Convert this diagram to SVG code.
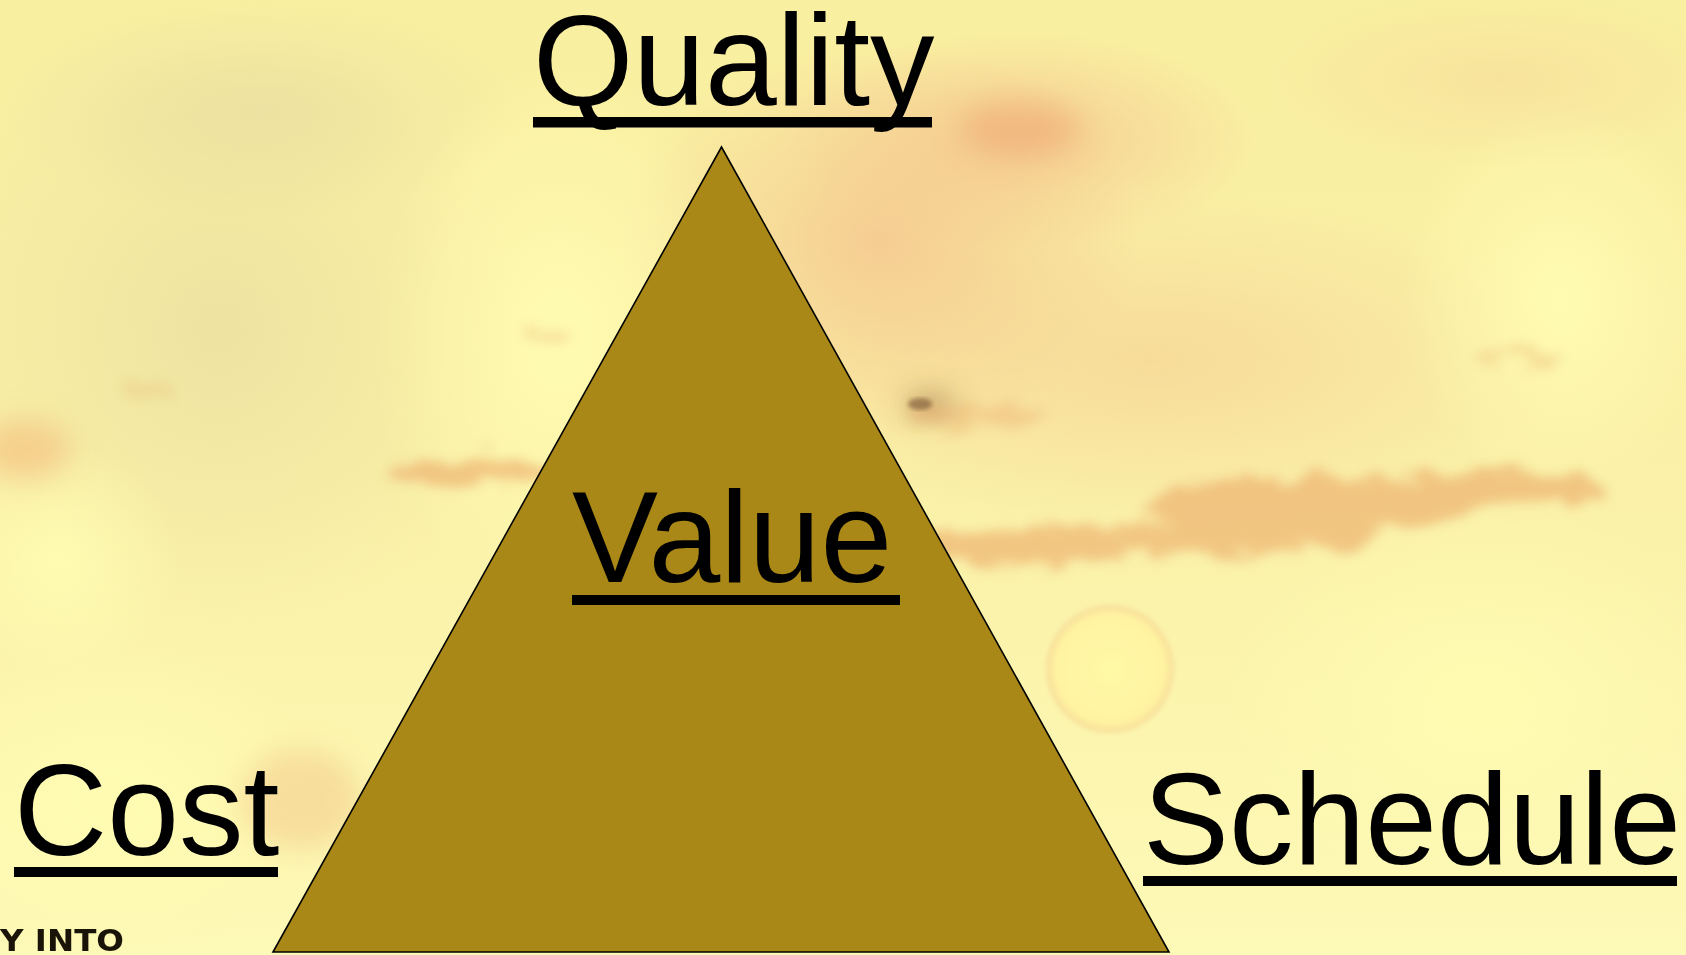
<svg xmlns="http://www.w3.org/2000/svg" width="1686" height="955" viewBox="0 0 1686 955">
  <defs>
    <linearGradient id="sky" x1="0" y1="0" x2="0" y2="1">
      <stop offset="0" stop-color="#F9EFA0"/>
      <stop offset="0.45" stop-color="#FAF0A6"/>
      <stop offset="1" stop-color="#FDF9B6"/>
    </linearGradient>
    <radialGradient id="warm" cx="0.5" cy="0.5" r="0.5">
      <stop offset="0" stop-color="#F4C48E" stop-opacity="0.8"/>
      <stop offset="1" stop-color="#F4C48E" stop-opacity="0"/>
    </radialGradient>
    <radialGradient id="glow" cx="0.5" cy="0.5" r="0.5">
      <stop offset="0" stop-color="#FFFCB2" stop-opacity="0.95"/>
      <stop offset="1" stop-color="#FFFCB2" stop-opacity="0"/>
    </radialGradient>
    <radialGradient id="grey" cx="0.5" cy="0.5" r="0.5">
      <stop offset="0" stop-color="#E6DBA0" stop-opacity="0.6"/>
      <stop offset="1" stop-color="#E6DBA0" stop-opacity="0"/>
    </radialGradient>
    <radialGradient id="sun" cx="0.5" cy="0.5" r="0.5">
      <stop offset="0" stop-color="#FFFAA6"/>
      <stop offset="0.85" stop-color="#FFF3A0"/>
      <stop offset="1" stop-color="#F6DA98"/>
    </radialGradient>
    <filter id="soft" x="-30%" y="-30%" width="160%" height="160%">
      <feGaussianBlur stdDeviation="14"/>
    </filter>
    <!-- ragged, blurred cloud edges -->
    <filter id="ragged" x="-20%" y="-100%" width="140%" height="300%">
      <feTurbulence type="fractalNoise" baseFrequency="0.03 0.08" numOctaves="3" seed="7" result="noise"/>
      <feDisplacementMap in="SourceGraphic" in2="noise" scale="40" xChannelSelector="R" yChannelSelector="G" result="moved"/>
      <feGaussianBlur in="moved" stdDeviation="6"/>
    </filter>
    <filter id="edge" x="-10%" y="-10%" width="120%" height="120%">
      <feGaussianBlur stdDeviation="2"/>
    </filter>
    <style>
      .label { font-family: "Liberation Sans", Arial, sans-serif; font-size: 129px; fill: #000000; }
      .rule { fill: #000000; }
      .streak { fill: #EBA868; }
    </style>
  </defs>

  <!-- sky backdrop -->
  <g id="backdrop">
    <rect x="0" y="0" width="1686" height="955" fill="url(#sky)"/>
    <!-- muted cloud mass on the left -->
    <ellipse cx="220" cy="330" rx="300" ry="320" fill="url(#grey)"/>
    <ellipse cx="260" cy="110" rx="260" ry="110" fill="url(#grey)"/>
    <!-- warm peach haze to the right of the apex -->
    <ellipse cx="880" cy="240" rx="260" ry="200" fill="url(#warm)"/>
    <ellipse cx="1020" cy="140" rx="240" ry="110" fill="url(#warm)"/>
    <ellipse cx="1150" cy="360" rx="420" ry="170" fill="url(#warm)" opacity="0.6"/>
    <ellipse cx="1500" cy="80" rx="240" ry="90" fill="url(#warm)" opacity="0.35"/>
    <!-- bright glows -->
    <ellipse cx="560" cy="340" rx="190" ry="280" fill="url(#glow)"/>
    <ellipse cx="1480" cy="700" rx="260" ry="200" fill="url(#glow)"/>
    <ellipse cx="1560" cy="300" rx="160" ry="200" fill="url(#glow)"/>
    <ellipse cx="110" cy="800" rx="220" ry="160" fill="url(#glow)"/>
    <ellipse cx="60" cy="560" rx="120" ry="120" fill="url(#glow)"/>
    <!-- soft orange patches -->
    <g filter="url(#soft)">
      <ellipse cx="25" cy="450" rx="45" ry="30" fill="#F2B878" opacity="0.55"/>
      <ellipse cx="300" cy="800" rx="60" ry="50" fill="#F2BE82" opacity="0.45"/>
      <ellipse cx="1020" cy="128" rx="60" ry="28" fill="#EFA873" opacity="0.55"/>
      <ellipse cx="930" cy="405" rx="26" ry="10" fill="#8A5A30" opacity="0.6"/>
    </g>
    <!-- orange cloud streaks -->
    <g filter="url(#ragged)" opacity="0.6">
      <ellipse class="streak" cx="470" cy="472" rx="80" ry="13"/>
      <ellipse class="streak" cx="1030" cy="545" rx="110" ry="18"/>
      <ellipse class="streak" cx="1310" cy="505" rx="170" ry="28"/>
      <ellipse class="streak" cx="1470" cy="490" rx="140" ry="18"/>
      <ellipse class="streak" cx="1230" cy="538" rx="150" ry="16"/>
      <ellipse class="streak" cx="980" cy="415" rx="70" ry="12" opacity="0.6"/>
      <ellipse class="streak" cx="1520" cy="355" rx="36" ry="7" opacity="0.6"/>
      <ellipse class="streak" cx="545" cy="335" rx="26" ry="6" opacity="0.6"/>
      <ellipse class="streak" cx="150" cy="390" rx="26" ry="6" opacity="0.5"/>
    </g>
    <ellipse cx="920" cy="404" rx="12" ry="6" fill="#6E4A2A" opacity="0.55" filter="url(#edge)"/>
    <!-- pale setting sun -->
    <circle cx="1110" cy="669" r="64" fill="url(#sun)" filter="url(#edge)" opacity="0.9"/>
    <!-- fragment of printed lettering in the lower left corner -->
    <text x="0" y="951" font-family="DejaVu Sans, sans-serif" font-weight="bold" font-size="31" fill="#1A1408" textLength="124" lengthAdjust="spacingAndGlyphs">Y INTO</text>
  </g>

  <!-- central triangle -->
  <g id="triangle">
    <polygon points="721.5,147 273,952 1169,952" fill="#AA8817" stroke="#000000" stroke-width="1.6" stroke-linejoin="miter"/>
  </g>

  <!-- corner labels -->
  <g id="quality">
    <text class="label" x="533" y="105">Quality</text>
    <rect class="rule" x="533" y="117" width="399" height="10.5"/>
  </g>
  <g id="value">
    <text class="label" x="572" y="582">Value</text>
    <rect class="rule" x="572" y="595" width="328" height="10"/>
  </g>
  <g id="cost">
    <text class="label" x="14" y="855">Cost</text>
    <rect class="rule" x="14" y="867" width="264" height="10"/>
  </g>
  <g id="schedule">
    <text class="label" x="1143" y="864">Schedule</text>
    <rect class="rule" x="1143" y="876" width="534" height="10"/>
  </g>

  <!-- no connectors in this figure -->
  <g id="connectors"/>
</svg>
